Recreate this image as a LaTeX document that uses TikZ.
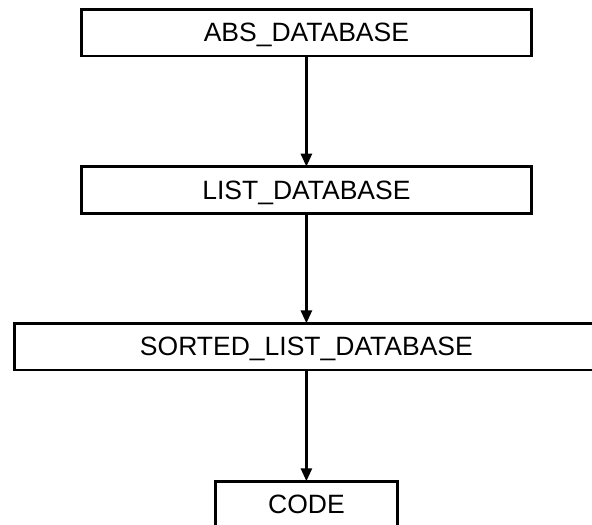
\documentclass[tikz,border=0pt]{standalone}
\usepackage{fontspec}
\setmainfont{Liberation Sans}
\usetikzlibrary{arrows.meta}
\tikzset{
  classbox/.style={draw, line width=2.7pt, inner sep=0pt, outer sep=0pt,
    minimum height=46.7pt, text depth=0pt, font=\fontsize{26.5}{30}\selectfont, fill=white},
  inherit/.style={line width=2.7pt, -{Triangle[length=13pt,width=11pt]}}
}
\begin{document}
\begin{tikzpicture}[x=1pt,y=-1pt]
  \clip (0,0) rectangle (592,525);
  \fill[white] (0,0) rectangle (592,525);
  \node[classbox, minimum width=449.8pt] (abs) at (306.4,32.7) {ABS\_DATABASE};
  \node[classbox, minimum width=449.8pt] (list) at (306.4,190) {LIST\_DATABASE};
  \node[classbox, minimum width=583.3pt] (sorted) at (306.4,346.7) {SORTED\_LIST\_DATABASE};
  \node[classbox, minimum width=182pt] (code) at (306.4,504.6) {CODE};
  \draw[inherit] (abs.south) -- (list.north);
  \draw[inherit] (list.south) -- (sorted.north);
  \draw[inherit] (sorted.south) -- (code.north);
\end{tikzpicture}
\end{document}
